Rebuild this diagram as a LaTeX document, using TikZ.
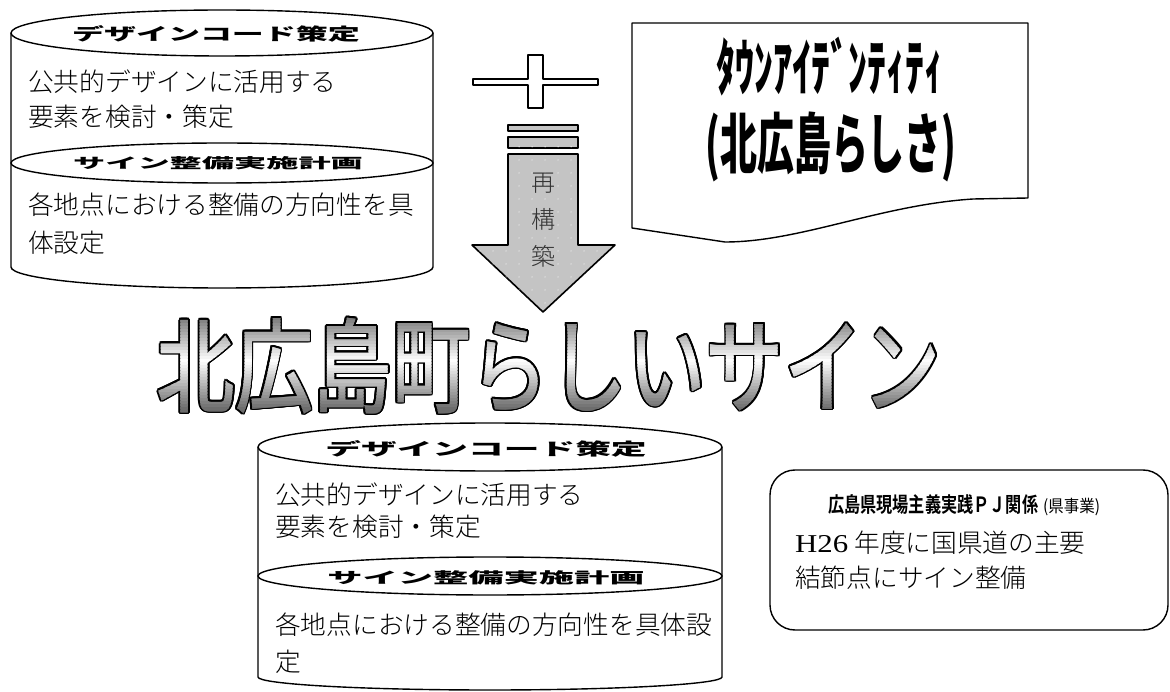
\documentclass[tikz,border=0pt]{standalone}
\usepackage{fontspec}
\usepackage{graphicx}
\usetikzlibrary{patterns.meta}
\setmainfont{Liberation Serif}
\newfontfamily\jp{Noto Sans CJK JP}
\IfFontExistsTF{Noto Sans CJK JP Medium}{\newfontfamily\jpm{Noto Sans CJK JP Medium}}{\newfontfamily\jpm{Noto Sans CJK JP}}
\IfFontExistsTF{Noto Sans CJK JP Light}{\newfontfamily\jpl{Noto Sans CJK JP Light}}{\newfontfamily\jpl{Noto Sans CJK JP}}
\IfFontExistsTF{Noto Sans CJK JP Bold}{\newfontfamily\jpb{Noto Sans CJK JP Bold}}{\newfontfamily\jpb{Noto Sans CJK JP}[FakeBold=2]}
\IfFontExistsTF{Noto Sans CJK JP Black}{\newfontfamily\jpk{Noto Sans CJK JP Black}}{\newfontfamily\jpk{Noto Sans CJK JP}[FakeBold=3]}
\definecolor{arrowgray}{HTML}{C4C4C4}
\newcommand\titletext{\scalebox{0.762}[1]{\jpm\fontsize{103}{103}\selectfont 北広島町らしいサイン}}
\newcommand\hdr[3]{\scalebox{#2}[1]{\jpk\fontsize{#1}{#1}\selectfont #3}}
\tikzset{
  shapeline/.style={draw=black, line width=1.4pt, line join=round},
  bodytext/.style={anchor=west, inner sep=0pt, font=\jpl\fontsize{25.7}{26}\selectfont},
  hdrtext/.style={inner sep=0pt, text=black},
  titlestyle/.style={inner sep=0pt},
}
\begin{document}
\begin{tikzpicture}[x=1pt,y=-1pt]
\useasboundingbox (0,0) rectangle (1170,692);
\fill[white] (0,0) rectangle (1170,692);

% ---------- top-left cylinder ----------
\coordinate (c1tl) at (11,33);
\coordinate (c1tr) at (433,33);
\draw[shapeline] (c1tl) -- (11,267) arc[start angle=180, end angle=0, x radius=211, y radius=21] -- (c1tr);
\draw[shapeline] (222,33) ellipse [x radius=211, y radius=23];
\draw[shapeline] (222,163) ellipse [x radius=211, y radius=20];
\node[hdrtext] (c1h1) at (216,34) {\hdr{17}{1.88}{デザインコード策定}};
\node[hdrtext] (c1h2) at (218,163) {\hdr{14}{2.3}{サイン整備実施計画}};
\node[bodytext] (c1a) at (28,82) {公共的デザインに活用する};
\node[bodytext] (c1b) at (28,117) {要素を検討・策定};
\node[bodytext] (c1c) at (28,205) {各地点における整備の方向性を具};
\node[bodytext] (c1d) at (28,243) {体設定};

% ---------- plus sign ----------
\draw[shapeline, fill=white, line width=1.3pt] (528,55) -- (543,55) -- (543,79) -- (598,79) -- (598,85) -- (543,85) -- (543,108) -- (528,108) -- (528,85) -- (473,85) -- (473,79) -- (528,79) -- cycle;

% ---------- equals bars + arrow ----------
\draw[shapeline, fill=arrowgray, line width=1.3pt] (508,125) rectangle (578,131);
\draw[shapeline, fill=arrowgray, line width=1.3pt, postaction={pattern={Dots[distance=13pt,radius=0.7pt]}, pattern color=white!70!arrowgray}] (508,137) rectangle (578,148);
\draw[shapeline, fill=arrowgray, line width=1.6pt, postaction={pattern={Dots[distance=13pt,radius=0.7pt]}, pattern color=white!70!arrowgray}]
  (508,154) -- (578,154) -- (578,245) -- (615,245) -- (543,312) -- (472,245) -- (508,245) -- cycle;
\node[inner sep=0pt, align=center, text=black!80, font=\jpl\fontsize{24}{37}\selectfont] (rebuild) at (543,220) {再\\構\\築};

% ---------- document shape ----------
\draw[shapeline, fill=white] (632,23) -- (1028,23) -- (1028,198) -- (973,199)
  .. controls (880,205) and (800,242) .. (725,242) -- (632,228) -- cycle;
\node[inner sep=0pt] (town) at (830,67) {\scalebox{0.61}[1]{\jpk\fontsize{62}{62}\selectfont ﾀｳﾝｱｲﾃﾞﾝﾃｨﾃｨ}};
\node[inner sep=0pt] (rashisa) at (831,147) {\scalebox{0.56}[1]{\jpk\fontsize{66}{66}\selectfont (北広島らしさ)}};

% ---------- title with outline and gradient ----------
\foreach \a [count=\i] in {0,22.5,...,337.5}{
  \node[titlestyle, text=black] (to\i) at ([shift={(\a:1.7)}]549,366) {\titletext};
}
\foreach \i in {0,...,33}{
  \pgfmathsetmacro\ya{312+3*\i}
  \pgfmathsetmacro\yb{\ya+3.4}
  \pgfmathsetmacro\p{min(1,abs(\ya+1.5-362)/48)*58}
  \begin{scope}
    \clip (150,\ya) rectangle (950,\yb);
    \node[titlestyle, text=black!\p!white] (tg\i) at (549,366) {\titletext};
  \end{scope}
}

% ---------- bottom cylinder ----------
\coordinate (c2tl) at (258,447);
\coordinate (c2tr) at (722,447);
\draw[shapeline] (c2tl) -- (258,677) arc[start angle=180, end angle=0, x radius=232, y radius=13] -- (c2tr);
\draw[shapeline] (490,447) ellipse [x radius=232, y radius=24];
\draw[shapeline] (490,576) ellipse [x radius=232, y radius=19];
\node[hdrtext] (c2h1) at (486,449) {\hdr{17}{2.1}{デザインコード策定}};
\node[hdrtext] (c2h2) at (486,578) {\hdr{15}{2.35}{サイン整備実施計画}};
\node[bodytext] (c2a) at (275,495) {公共的デザインに活用する};
\node[bodytext] (c2b) at (275,527) {要素を検討・策定};
\node[bodytext] (c2c) at (275,625) {各地点における整備の方向性を具体設};
\node[bodytext] (c2d) at (275,662) {定};

% ---------- rounded note box ----------
\draw[shapeline, rounded corners=25pt] (770,470) rectangle (1168,630);
\node[anchor=west, inner sep=0pt] (pj) at (828,505)
  {\resizebox{210pt}{\height}{\jpb\fontsize{21}{21}\selectfont 広島県現場主義実践ＰＪ関係}\hspace{5pt}\resizebox{57pt}{\height}{\jp\fontsize{17}{17}\selectfont (県事業)}};
\node[anchor=west, inner sep=0pt] (h26) at (795,543)
  {\scalebox{1.2}[1]{\fontsize{25.7}{26}\selectfont H26}\hspace{6pt}{\jpl\fontsize{25.7}{26}\selectfont 年度に国県道の主要}};
\node[bodytext] (kessetsu) at (795,578) {結節点にサイン整備};
\end{tikzpicture}
\end{document}
